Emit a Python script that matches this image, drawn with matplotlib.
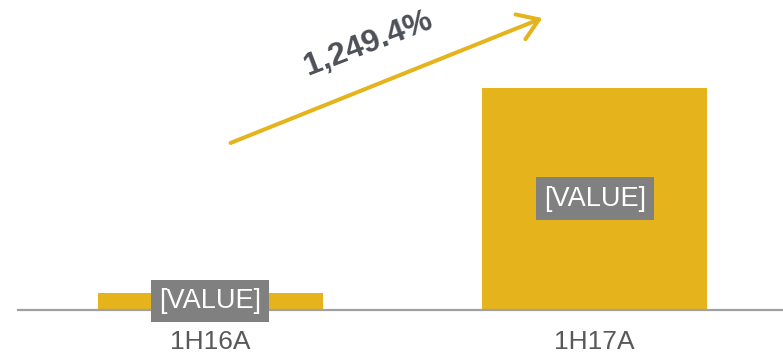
import matplotlib
matplotlib.use('Agg')
import matplotlib.pyplot as plt

# Half-year comparison with growth arrow
categories = ['1H16A', '1H17A']
values = [100.0, 1349.4]          # 1H17A = 1H16A * (1 + 12.494)
value_labels = ['[VALUE]', '[VALUE]']
growth_label = '1,249.4%'

BAR = '#E5B41C'
AXIS = '#A0A0A0'
TXT = '#595959'
PCT = '#4D5157'
BOX = '#808080'

plt.rcParams['font.family'] = ['Liberation Sans', 'DejaVu Sans']

W, H = 783, 353
fig = plt.figure(figsize=(W / 100, H / 100), dpi=100)
fig.patch.set_facecolor('white')

base = 43.5 / H
ax = fig.add_axes([18 / W, base, 1 - 18 / W, 1 - base])
ax.set_facecolor('none')

x = range(len(categories))
ax.bar(x, values, width=0.585, color=BAR, zorder=2)

ax.set_xlim(-0.5, 1.49)
ax.set_ylim(0, values[1] * 309.5 / 221.8)

for i, (v, lab) in enumerate(zip(values, value_labels)):
    ax.text(i, v / 2, lab, ha='center', va='center', fontsize=19.5,
            color='white', zorder=4,
            bbox=dict(boxstyle='square,pad=0.3', fc=BOX, ec='none'))

ax.set_xticks(list(x))
ax.set_xticklabels(categories, fontsize=19, color=TXT)
ax.tick_params(axis='x', length=0, pad=15)
ax.set_yticks([])
for s in ['top', 'right', 'left']:
    ax.spines[s].set_visible(False)
ax.spines['bottom'].set_color(AXIS)
ax.spines['bottom'].set_linewidth(1.6)
ax.spines['bottom'].set_zorder(3)

# growth arrow and label
fig.add_artist(matplotlib.patches.FancyArrowPatch(
    (228 / W, 1 - 144 / H), (545 / W, 1 - 17 / H),
    transform=fig.transFigure, arrowstyle='->,head_length=9,head_width=6',
    color=BAR, lw=2.9, mutation_scale=1.6))
fig.text(368 / W, 1 - 44 / H, growth_label, fontsize=23, fontweight='bold',
         color=PCT, rotation=21, ha='center', va='center',
         rotation_mode='anchor')

fig.savefig('out.png', dpi=100, facecolor='white')
